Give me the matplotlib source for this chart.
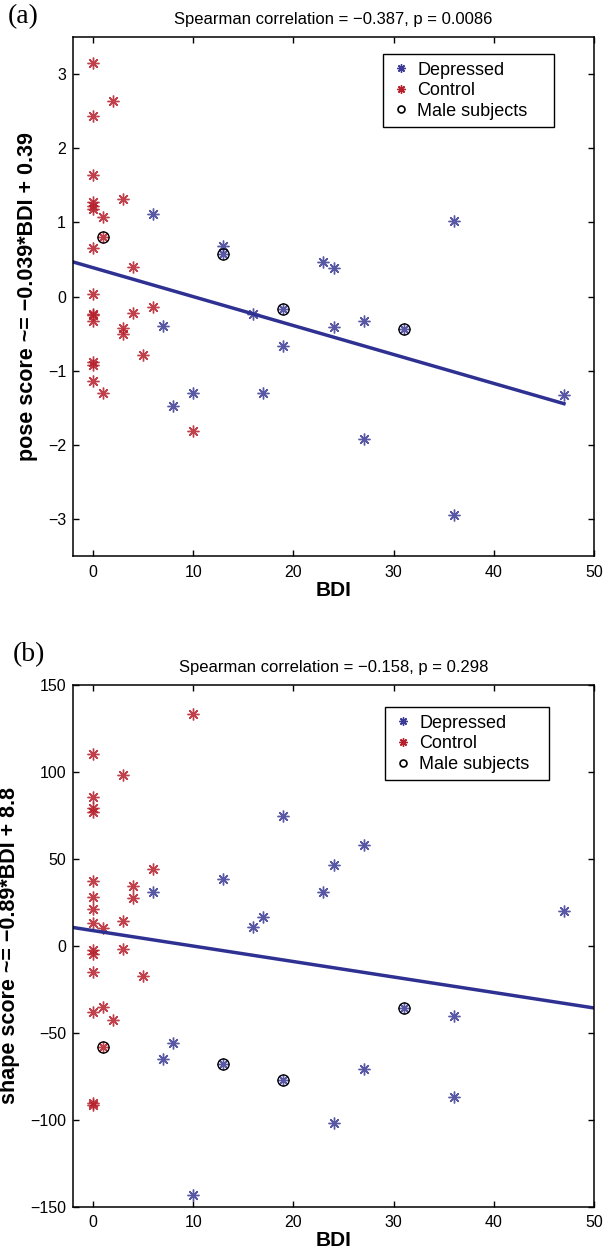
import matplotlib
matplotlib.use("Agg")
import matplotlib.pyplot as plt
from matplotlib.lines import Line2D
import numpy as np

# panel (a): pose score vs BDI
dep_bdi_a = [6, 7, 8, 10, 13, 13, 16, 17, 19, 19, 23, 24, 24, 27, 27, 31, 36, 36, 47]
dep_pose = [1.11, -0.40, -1.48, -1.30, 0.68, 0.58, -0.23, -1.30, -0.17, -0.67,
            0.47, 0.38, -0.41, -0.33, -1.92, -0.43, 1.02, -2.95, -1.32]
ctrl_bdi_a = [0] * 14 + [1, 1, 1, 2, 3, 3, 3, 4, 4, 5, 6, 10]
ctrl_pose = [3.15, 2.44, 1.64, 1.27, 1.22, 1.18, 0.65, 0.03, -0.23, -0.25, -0.33, -0.88, -0.92, -1.14,
             1.07, 0.81, -1.30, 2.64, 1.32, -0.42, -0.51, 0.40, -0.22, -0.79, -0.14, -1.81]
male_bdi_a = [1, 13, 19, 31]
male_pose = [0.81, 0.58, -0.17, -0.43]
fit_a = (-0.039, 0.39)
fit_x_a = [-2, 47]

# panel (b): shape score vs BDI
dep_bdi_b = [6, 7, 8, 10, 13, 13, 16, 17, 19, 19, 23, 24, 24, 27, 27, 31, 36, 36, 47]
dep_shape = [31.2, -65.2, -55.6, -143.2, 38.3, -67.9, 11.1, 16.5, 74.8, -77.1,
             31.2, 46.6, -101.6, 58.1, -70.7, -35.8, -40.6, -87.0, 20.3]
ctrl_bdi_b = [0] * 14 + [1, 1, 1, 2, 3, 3, 3, 4, 4, 5, 6, 10]
ctrl_shape = [110.2, 85.5, 79.2, 76.9, 37.4, 28.4, 21.3, 13.0, -2.3, -4.6, -14.8, -38.1, -90.1, -91.4,
              10.2, -34.9, -58.3, -42.9, 98.3, 14.6, -1.7, 34.5, 27.4, -17.3, 44.3, 133.2]
male_bdi_b = [1, 13, 19, 31]
male_shape = [-58.3, -67.9, -77.1, -35.8]
fit_b = (-0.89, 8.8)
fit_x_b = [-2, 50]

titles = ["Spearman correlation = \u22120.387, p = 0.0086",
          "Spearman correlation = \u22120.158, p = 0.298"]
ylabels = ["pose score ~= \u22120.039*BDI + 0.39",
           "shape score ~= \u22120.89*BDI + 8.8"]
legend_labels = ["Depressed", "Control", "Male subjects"]

# plotting
plt.rcParams["font.family"] = ["Liberation Sans", "DejaVu Sans"]
dep_colour = "#3b3b95"
ctrl_colour = "#b5202b"
line_colour = "#2e3192"
star = (8, 2, 0)
tick_fontsize = 11.5
title_fontsize = 12
label_fontsize = 15.5

fig = plt.figure(figsize=(6.15, 12.54), dpi=100)
ax_a = fig.add_axes([0.1187, 0.5564, 0.8472, 0.4141])
ax_b = fig.add_axes([0.1187, 0.0377, 0.8472, 0.4160])

panels = [
    (ax_a, dep_bdi_a, dep_pose, ctrl_bdi_a, ctrl_pose, male_bdi_a, male_pose, fit_a, fit_x_a,
     (-3.5, 3.5), [-3, -2, -1, 0, 1, 2, 3], (0.595, 0.9667, 0.328)),
    (ax_b, dep_bdi_b, dep_shape, ctrl_bdi_b, ctrl_shape, male_bdi_b, male_shape, fit_b, fit_x_b,
     (-150, 150), [-150, -100, -50, 0, 50, 100, 150], (0.599, 0.957, 0.315)),
]

for i, (ax, dx, dy, cx, cy, mx, my, fit, fx, ylim, yticks, leg_box) in enumerate(panels):
    ax.plot(cx, cy, linestyle="none", marker=star, markersize=8.5, markeredgewidth=1.0,
            color=ctrl_colour, alpha=0.85)
    ax.plot(dx, dy, linestyle="none", marker=star, markersize=8.5, markeredgewidth=1.0,
            color=dep_colour, alpha=0.85)
    fx = np.array(fx, dtype=float)
    ax.plot(fx, fit[0] * fx + fit[1], color=line_colour, linewidth=2.5)
    ax.plot(mx, my, linestyle="none", marker="o", markersize=8, markerfacecolor="none",
            markeredgecolor="black", markeredgewidth=1.0)

    ax.set_xlim(-2, 50)
    ax.set_ylim(*ylim)
    ax.set_xticks([0, 10, 20, 30, 40, 50])
    ax.set_yticks(yticks)
    ax.tick_params(direction="in", top=True, right=True, length=4, width=1.0,
                   labelsize=tick_fontsize, pad=5)
    ax.tick_params(axis="x", pad=6)
    for spine in ax.spines.values():
        spine.set_linewidth(1.1)
    ax.set_title(titles[i], fontsize=title_fontsize, pad=9.5)
    ax.set_xlabel("BDI", fontsize=15, fontweight="bold", labelpad=1)
    ax.set_ylabel(ylabels[i], fontsize=label_fontsize, fontweight="bold", labelpad=7)

    handles = [
        Line2D([], [], linestyle="none", marker=star, markersize=6, color=dep_colour),
        Line2D([], [], linestyle="none", marker=star, markersize=6, color=ctrl_colour),
        Line2D([], [], linestyle="none", marker="o", markersize=5, markerfacecolor="none",
               markeredgecolor="black", markeredgewidth=1.2),
    ]
    x0, top, w = leg_box
    leg = ax.legend(handles, legend_labels, loc="upper left",
                    bbox_to_anchor=(x0, top - 0.2, w, 0.2), mode="expand",
                    fontsize=13, frameon=True, fancybox=False, framealpha=1,
                    edgecolor="black", handlelength=1.2, handletextpad=0.3,
                    labelspacing=0.2, borderpad=0.4, borderaxespad=0)
    leg.get_frame().set_linewidth(1.0)

# panel letters
fig.text(0.013, 0.9864, "(a)", family="Liberation Serif", fontsize=20, ha="left", va="center")
fig.text(0.020, 0.4777, "(b)", family="Liberation Serif", fontsize=20, ha="left", va="center")

fig.savefig("out.png", dpi=100)
